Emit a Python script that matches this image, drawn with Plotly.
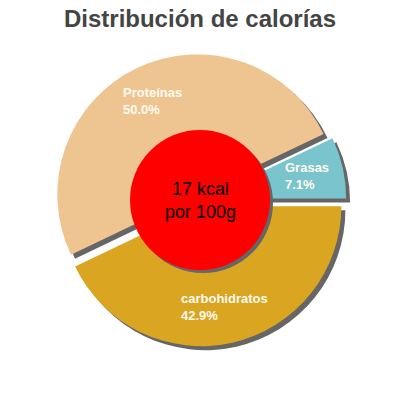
import math
import plotly.graph_objects as go

# datos de la figura
etiquetas = ["carbohidratos", "Proteínas", "Grasas"]
porcentajes = [42.9, 50.0, 7.1]
colores = ["#DAA520", "#EEC591", "#7AC5CD"]
texto_centro = ["17 kcal", "por 100g"]
titulo = "Distribución de calorías"

W = H = 400
OFF = 8  # margen del <body> de la página
cx, cy = 200 - OFF, 200 - OFF  # centro de la tarta en px
R = 140
tirar = 0.045
sombra = 4
caja = 2 * R * (1 + tirar)


def dominio(dx=0, dy=0):
    x0 = (cx + dx - caja / 2) / W
    y0 = 1 - (cy + dy + caja / 2) / H
    return dict(x=[x0, x0 + caja / W], y=[y0, y0 + caja / H])


fig = go.Figure()

# sombra gris
fig.add_trace(go.Pie(
    labels=etiquetas,
    values=porcentajes,
    sort=False,
    direction="clockwise",
    rotation=90,
    pull=tirar,
    marker=dict(colors=["#666666"] * len(etiquetas), line=dict(width=0)),
    textinfo="none",
    hoverinfo="skip",
    domain=dominio(sombra, sombra),
    showlegend=False,
))

fig.add_trace(go.Pie(
    labels=etiquetas,
    values=porcentajes,
    sort=False,
    direction="clockwise",
    rotation=90,
    pull=tirar,
    marker=dict(colors=colores, line=dict(width=0)),
    textinfo="none",
    domain=dominio(),
    showlegend=False,
))

# etiquetas de las porciones
total = sum(porcentajes)
acum = 0
for lab, v in zip(etiquetas, porcentajes):
    ang = math.radians(360 * (acum + v / 2) / total)
    acum += v
    px = cx + 110 * math.cos(ang)
    py = cy + 110 * math.sin(ang)
    fig.add_annotation(
        x=px / W, y=1 - py / H, xref="paper", yref="paper",
        text=f"{lab}<br>{v / total * 100:.1f}%",
        showarrow=False, align="left", xanchor="center", yanchor="middle",
        font=dict(family="Liberation Sans, Arial", size=13, color="#FFFAF0", weight="bold"),
    )

# círculo central
rc = 70
fig.add_shape(type="circle", xref="paper", yref="paper", layer="above",
              x0=(cx - rc + 3) / W, x1=(cx + rc + 3) / W,
              y0=1 - (cy + rc + 3) / H, y1=1 - (cy - rc + 3) / H,
              fillcolor="#666666", line=dict(width=0))
fig.add_shape(type="circle", xref="paper", yref="paper", layer="above",
              x0=(cx - rc) / W, x1=(cx + rc) / W,
              y0=1 - (cy + rc) / H, y1=1 - (cy - rc) / H,
              fillcolor="#FF0000", line=dict(width=0))

fig.add_annotation(
    x=cx / W, y=1 - cy / H, xref="paper", yref="paper",
    text="<br>".join(texto_centro), showarrow=False,
    font=dict(family="Liberation Sans, Arial", size=18, color="black"),
)

fig.update_layout(
    width=W, height=H,
    margin=dict(l=0, r=0, t=0, b=0),
    paper_bgcolor="white",
    plot_bgcolor="white",
    title=dict(
        text=f"<b>{titulo}</b>",
        x=cx / W, xanchor="center",
        y=1 - 2 / H, yanchor="top", yref="container",
        font=dict(family="Liberation Sans, Arial", size=24, color="#444444"),
    ),
)

fig.write_html("out.html")
